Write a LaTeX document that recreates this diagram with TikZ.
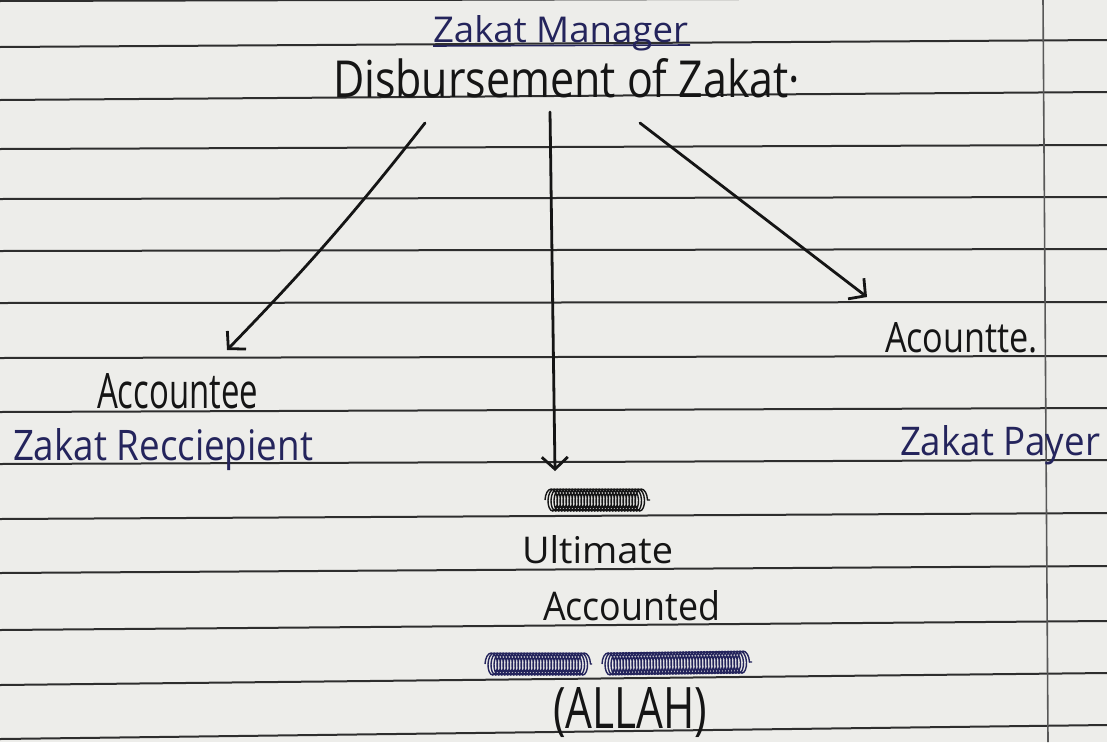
\documentclass[tikz,border=0pt]{standalone}
\usepackage{fontspec}
\setmainfont{Open Sans}
\usetikzlibrary{arrows.meta,decorations.pathmorphing}
\definecolor{paper}{HTML}{EDEDEA}
\definecolor{rulecol}{HTML}{2E2E2E}
\definecolor{ink}{HTML}{151515}
\definecolor{blueink}{HTML}{24245C}
\newcommand\fitbox[3]{\resizebox{#1pt}{#2pt}{#3}}
\begin{document}
\begin{tikzpicture}[x=1pt,y=-1pt,
  ruled/.style={draw=rulecol, line width=2pt},
  txt/.style={inner sep=0pt, outer sep=0pt, anchor=base west, text=ink},
  bluetxt/.style={txt, text=blueink},
  inkarrow/.style={draw=ink, line width=2.8pt, line cap=round,
    -{Straight Barb[length=12pt,width=26pt,line width=2.8pt]}},
  scribble/.style={draw=ink, line width=1.4pt, decorate,
    decoration={coil, amplitude=11pt, segment length=3pt, aspect=0.5}}]
\fill[paper] (0,0) rectangle (1107,742);
\useasboundingbox (0,0) rectangle (1107,742);
% ruled lines
\draw[ruled] (0,1) -- (1107,-2);
\foreach \l/\r in {47/40,100/92,149/145,199/197,251/249,303/302,358/356,
  412/408,464/460,519/513,573/566,630/621,685/673,739/725}
  \draw[ruled] (0,\l) -- (1107,\r);
% margin line
\draw[draw=rulecol!80, line width=1.6pt] (1043,0) -- (1048,742);
% texts
\node[bluetxt] (mgr) at (433,42) {\fitbox{255}{27}{Zakat Manager}};
\draw[blueink, line width=1.6pt] (433,46) -- (690,45);
\node[txt] (dis) at (333,97) {\fitbox{467}{39}{Disbursement of Zakat·}};
\node[txt] (acc1) at (97,408) {\fitbox{161}{35}{Accountee}};
\node[bluetxt] (rec) at (13,460) {\fitbox{300}{32}{Zakat Recciepient}};
\node[txt] (acc2) at (885,352) {\fitbox{153}{30}{Acountte.}};
\node[bluetxt] (pay) at (900,455) {\fitbox{200}{30}{Zakat Payer}};
\node[txt] (ult) at (522,563) {\fitbox{151}{28}{Ultimate}};
\node[txt] (accd) at (543,620) {\fitbox{177}{30}{Accounted}};
\node[txt] (allah) at (553,728) {\fitbox{154}{41}{(ALLAH)}};
% scribbled-out words
\draw[scribble] (545,500) -- (650,500);
\draw[scribble, draw=blueink] (485,664) -- (592,664);
\draw[scribble, draw=blueink] (602,664) -- (752,662);
% arrows
\coordinate (s1) at (425,123);
\coordinate (e1) at (227,350);
\coordinate (s2) at (550,112);
\coordinate (e2) at (555,471);
\coordinate (s3) at (640,123);
\coordinate (e3) at (867,297);
\draw[inkarrow] (s1) to[bend left=3] (e1);
\draw[inkarrow] (s2) -- (e2);
\draw[inkarrow] (s3) -- (e3);
\end{tikzpicture}
\end{document}
